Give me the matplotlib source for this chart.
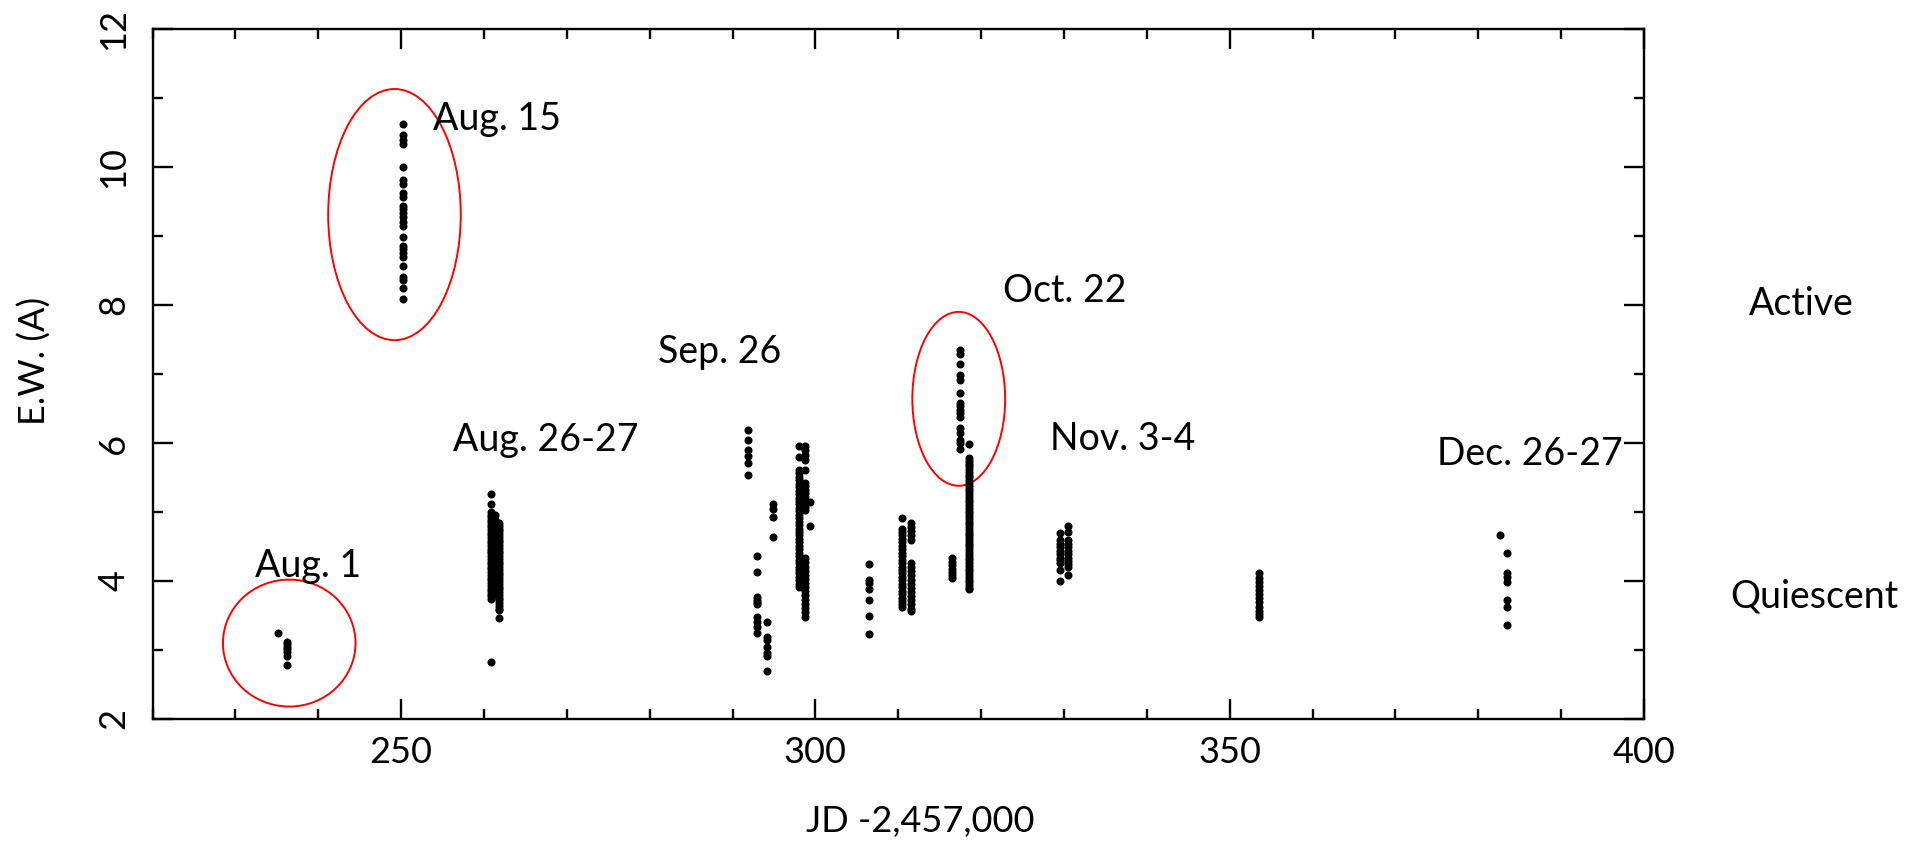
import matplotlib.pyplot as plt
from matplotlib.patches import Ellipse
from matplotlib.ticker import MultipleLocator

plt.rcParams['font.family'] = ['Lato', 'DejaVu Sans']

# each column of dots: one JD, many E.W. values
aug01_a_jd, aug01_a_ew = 235.1, [3.24]
aug01_b_jd, aug01_b_ew = 236.2, [3.12, 3.08, 3.05, 3.01, 2.97, 2.92, 2.78]

aug15_jd = 250.2
aug15_ew = [10.62, 10.46, 10.39, 10.33, 10.00, 9.81, 9.75, 9.63, 9.56, 9.43, 9.39, 9.33,
            9.27, 9.21, 9.14, 8.98, 8.86, 8.81, 8.75, 8.70, 8.56, 8.41, 8.36, 8.25, 8.08]

aug26_a_jd = 260.9
aug26_a_ew = [5.26, 5.12, 5.00, 4.96, 4.93, 4.89, 4.85, 4.81, 4.78, 4.74, 4.70, 4.66, 4.62,
              4.58, 4.55, 4.51, 4.47, 4.43, 4.40, 4.36, 4.32, 4.28, 4.24, 4.21, 4.17, 4.13,
              4.09, 4.05, 4.01, 3.97, 3.93, 3.89, 3.85, 3.81, 3.78, 3.74, 2.83]
aug26_b_jd = 261.3
aug26_b_ew = [4.95, 4.88, 4.80, 4.71, 4.63, 4.55, 4.46, 4.38, 4.29, 4.21, 4.12, 4.04, 3.95,
              3.87, 3.80]
aug26_c_jd = 261.8
aug26_c_ew = [4.84, 4.80, 4.76, 4.72, 4.68, 4.64, 4.60, 4.56, 4.52, 4.48, 4.44, 4.40, 4.36,
              4.32, 4.28, 4.24, 4.20, 4.16, 4.12, 4.08, 4.04, 4.00, 3.96, 3.92, 3.88, 3.84,
              3.80, 3.76, 3.72, 3.68, 3.64, 3.60, 3.58, 3.47]

sep26_a_jd, sep26_a_ew = 291.9, [6.19, 6.05, 5.90, 5.81, 5.71, 5.54]
sep26_b_jd, sep26_b_ew = 292.9, [4.36, 4.13, 3.77, 3.73, 3.69, 3.66, 3.48, 3.41, 3.34, 3.24]
sep26_c_jd, sep26_c_ew = 294.2, [3.41, 3.19, 3.14, 3.05, 2.95, 2.91, 2.69]
sep26_d_jd, sep26_d_ew = 294.9, [5.12, 5.05, 4.93, 4.64]

sep30_a_jd = 298.0
sep30_a_ew = [5.96, 5.80, 5.61, 5.56, 5.51, 5.46, 5.41, 5.36, 5.31, 5.26, 5.21, 5.16, 5.11,
              5.06, 5.01, 4.96, 4.91, 4.86, 4.81, 4.76, 4.71, 4.66, 4.61, 4.56, 4.51, 4.46,
              4.41, 4.36, 4.31, 4.26, 4.21, 4.16, 4.11, 4.06, 4.01, 3.96, 3.92]
sep30_b_jd = 298.8
sep30_b_ew = [5.96, 5.90, 5.82, 5.75, 5.61, 5.42, 5.37, 5.32, 5.27, 5.22, 5.17, 5.12, 5.07,
              5.03, 4.33, 4.27, 4.21, 4.15, 4.09, 4.03, 3.97, 3.91, 3.85, 3.79, 3.73, 3.67,
              3.61, 3.55, 3.48]
sep30_c_jd, sep30_c_ew = 299.3, [5.15, 4.79]

oct08_jd, oct08_ew = 306.5, [4.24, 4.01, 3.97, 3.89, 3.72, 3.49, 3.23]

oct12_a_jd = 310.5
oct12_a_ew = [4.92, 4.76, 4.71, 4.66, 4.61, 4.56, 4.51, 4.46, 4.41, 4.36, 4.31, 4.26, 4.21,
              4.16, 4.11, 4.06, 4.01, 3.96, 3.91, 3.86, 3.81, 3.76, 3.71, 3.66, 3.63]
oct12_b_jd = 311.5
oct12_b_ew = [4.84, 4.78, 4.72, 4.66, 4.59, 4.26, 4.20, 4.14, 4.08, 4.02, 3.96, 3.90, 3.84,
              3.78, 3.72, 3.66, 3.60, 3.56]

oct22_a_jd, oct22_a_ew = 316.5, [4.33, 4.28, 4.23, 4.18, 4.13, 4.08, 4.04]
oct22_b_jd = 317.5
oct22_b_ew = [7.35, 7.29, 7.15, 6.99, 6.92, 6.72, 6.58, 6.53, 6.48, 6.43, 6.37, 6.22, 6.15,
              6.04, 6.00, 5.92]
oct22_c_jd = 318.5
oct22_c_ew = [5.99, 5.78, 5.74, 5.70, 5.66, 5.62, 5.58, 5.54, 5.50, 5.46, 5.42, 5.38, 5.34,
              5.30, 5.26, 5.22, 5.18, 5.14, 5.10, 5.06, 5.02, 4.98, 4.94, 4.90, 4.86, 4.82,
              4.78, 4.74, 4.70, 4.66, 4.62, 4.58, 4.54, 4.50, 4.46, 4.42, 4.38, 4.34, 4.30,
              4.26, 4.22, 4.18, 4.14, 4.10, 4.06, 4.02, 3.98, 3.94, 3.90, 3.88]

nov03_a_jd = 329.5
nov03_a_ew = [4.69, 4.59, 4.54, 4.49, 4.44, 4.39, 4.34, 4.30, 4.26, 4.16, 4.00]
nov03_b_jd = 330.5
nov03_b_ew = [4.80, 4.71, 4.59, 4.54, 4.49, 4.44, 4.39, 4.34, 4.29, 4.25, 4.21, 4.09]

nov27_jd = 353.5
nov27_ew = [4.11, 4.05, 3.99, 3.93, 3.87, 3.81, 3.75, 3.69, 3.63, 3.57, 3.52, 3.48]

dec26_a_jd, dec26_a_ew = 382.6, [4.67]
dec26_b_jd, dec26_b_ew = 383.5, [4.40, 4.12, 4.06, 3.98, 3.72, 3.62, 3.36]

columns = [
    (aug01_a_jd, aug01_a_ew), (aug01_b_jd, aug01_b_ew), (aug15_jd, aug15_ew),
    (aug26_a_jd, aug26_a_ew), (aug26_b_jd, aug26_b_ew), (aug26_c_jd, aug26_c_ew),
    (sep26_a_jd, sep26_a_ew), (sep26_b_jd, sep26_b_ew), (sep26_c_jd, sep26_c_ew),
    (sep26_d_jd, sep26_d_ew), (sep30_a_jd, sep30_a_ew), (sep30_b_jd, sep30_b_ew),
    (sep30_c_jd, sep30_c_ew), (oct08_jd, oct08_ew), (oct12_a_jd, oct12_a_ew),
    (oct12_b_jd, oct12_b_ew), (oct22_a_jd, oct22_a_ew), (oct22_b_jd, oct22_b_ew),
    (oct22_c_jd, oct22_c_ew), (nov03_a_jd, nov03_a_ew), (nov03_b_jd, nov03_b_ew),
    (nov27_jd, nov27_ew), (dec26_a_jd, dec26_a_ew), (dec26_b_jd, dec26_b_ew),
]

# date labels: text, jd (left edge), baseline E.W.
date_labels = ["Aug. 1", "Aug. 15", "Aug. 26-27", "Sep. 26", "Oct. 22", "Nov. 3-4", "Dec. 26-27"]
date_x = [232.4, 253.8, 256.3, 281.0, 322.7, 328.3, 375.0]
date_y = [4.06, 10.54, 5.89, 7.16, 8.05, 5.90, 5.68]

# circled events: center jd, center E.W., width, height
circle_x = [236.5, 249.2, 317.3]
circle_y = [3.10, 9.31, 6.64]
circle_w = [16.0, 16.0, 11.2]
circle_h = [1.84, 3.64, 2.52]

fig = plt.figure(figsize=(19.21, 8.43), dpi=100)
ax = fig.add_axes([0.0794, 0.1471, 0.7764, 0.8185])

for jd, ew in columns:
    ax.plot([jd] * len(ew), ew, 'o', color='black', ms=5.8, mew=0)

for cx, cy, w, h in zip(circle_x, circle_y, circle_w, circle_h):
    ax.add_patch(Ellipse((cx, cy), w, h, fill=False, edgecolor='red', lw=1.4))

for txt, x, y in zip(date_labels, date_x, date_y):
    ax.text(x, y, txt, fontsize=27, ha='left', va='baseline')

ax.text(419.0, 7.86, "Active", fontsize=27, ha='center', va='baseline', clip_on=False)
ax.text(420.6, 3.62, "Quiescent", fontsize=27, ha='center', va='baseline', clip_on=False)

ax.set_xlim(220, 400)
ax.set_ylim(2, 12)
ax.xaxis.set_major_locator(MultipleLocator(50))
ax.xaxis.set_minor_locator(MultipleLocator(10))
ax.yaxis.set_major_locator(MultipleLocator(2))
ax.yaxis.set_minor_locator(MultipleLocator(1))

for s in ax.spines.values():
    s.set_linewidth(1.7)
ax.tick_params(which='both', direction='in', top=True, right=True, width=1.7, labelsize=26)
ax.tick_params(which='major', length=14.5)
ax.tick_params(which='minor', length=7.2)
ax.tick_params(axis='x', pad=12)
ax.tick_params(axis='y', pad=16, labelrotation=90)
for lab in ax.get_yticklabels():
    lab.set_va('center')

ax.set_xlabel("JD -2,457,000", fontsize=26, va='baseline')
ax.xaxis.set_label_coords(0.5146, -0.1633)
ax.set_ylabel("E.W. (A)", fontsize=26, va='center')
ax.yaxis.set_label_coords(-0.0788, 0.519)

fig.savefig('out.png', dpi=100)
